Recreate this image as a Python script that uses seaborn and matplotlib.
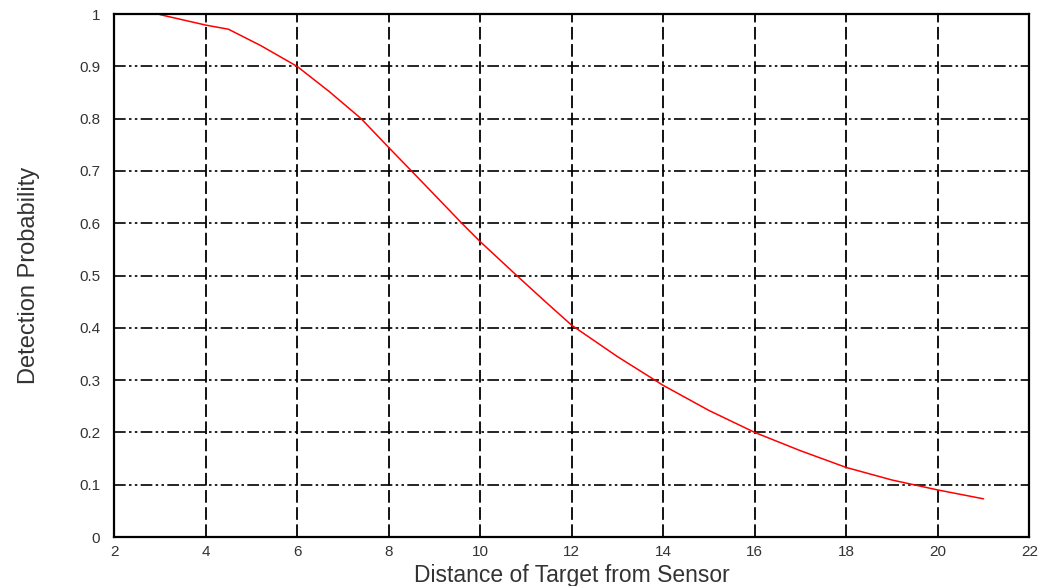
import pandas as pd
import matplotlib.pyplot as plt
import seaborn as sns

# Values
distance = [3, 4, 4.5, 5.2, 6, 6.7, 7.4, 8, 8.5, 9.6, 10, 10.8, 11.4, 12, 13,
            14, 15, 16, 17, 18, 19, 20, 21]
probability = [0.999, 0.979, 0.971, 0.94, 0.90, 0.852, 0.80, 0.745, 0.70, 0.60,
               0.565, 0.50, 0.452, 0.405, 0.345, 0.29, 0.242, 0.20, 0.165,
               0.133, 0.109, 0.09, 0.073]
x_ticks = [2, 4, 6, 8, 10, 12, 14, 16, 18, 20, 22]
y_ticks = [0, 0.1, 0.2, 0.3, 0.4, 0.5, 0.6, 0.7, 0.8, 0.9, 1]
y_tick_labels = ["0", "0.1", "0.2", "0.3", "0.4", "0.5", "0.6", "0.7", "0.8", "0.9", "1"]

df = pd.DataFrame({"distance": distance, "probability": probability})

sns.set_style("white")
plt.rcParams["font.family"] = ["Liberation Sans", "DejaVu Sans"]

fig = plt.figure(figsize=(10.52, 5.86), dpi=100)
ax = fig.add_axes([0.1084, 0.0836, 0.8700, 0.8924])

sns.lineplot(data=df, x="distance", y="probability", color="red", linewidth=1.1, ax=ax)

ax.set_xlim(2, 22)
ax.set_ylim(0, 1)
ax.set_xticks(x_ticks)
ax.set_yticks(y_ticks)
ax.set_yticklabels(y_tick_labels)

# grid: dashed verticals, dash-dot-dot horizontals
for x in x_ticks[1:-1]:
    ax.axvline(x, color="black", linewidth=1.3, linestyle=(0, (7, 2.5)), zorder=1)
for y in y_ticks[1:-1]:
    ax.axhline(y, color="black", linewidth=1.2,
               linestyle=(0, (7, 2, 1.5, 2, 1.5, 2)), zorder=1)

for side in ax.spines.values():
    side.set_color("black")
    side.set_linewidth(1.6)

ax.tick_params(axis="both", length=0, labelsize=11, colors="#333333")
ax.tick_params(axis="x", pad=6)
ax.tick_params(axis="y", pad=10)

ax.set_xlabel("Distance of Target from Sensor", fontsize=16.5, color="#333333")
ax.xaxis.set_label_coords(0.5, -0.052)
ax.set_ylabel("Detection Probability", fontsize=17, color="#333333")
ax.yaxis.set_label_coords(-0.081, 0.5)

fig.savefig("out.png", dpi=100)
